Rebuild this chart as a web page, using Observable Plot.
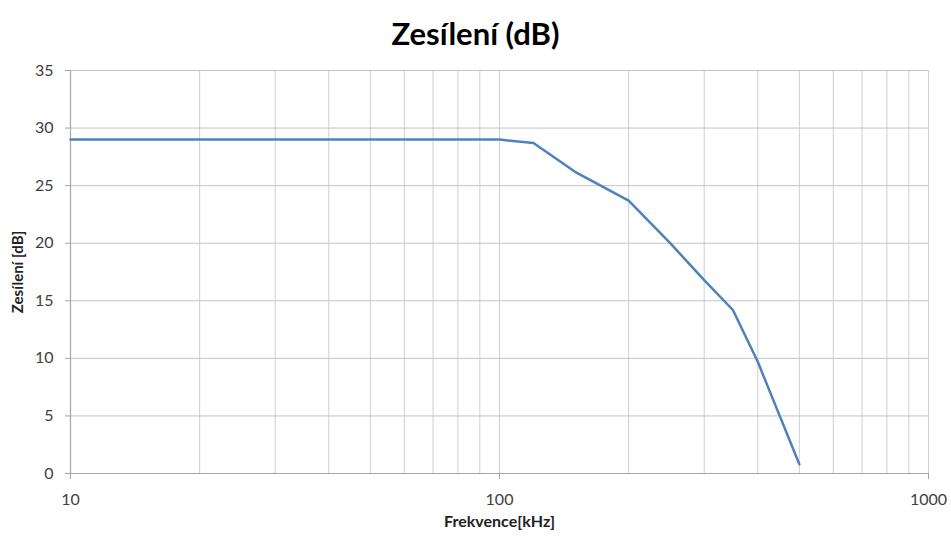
<!DOCTYPE html>
<html>
<head>
<meta charset="utf-8">
<script src="https://cdn.jsdelivr.net/npm/d3@7"></script>
<script src="https://cdn.jsdelivr.net/npm/@observablehq/plot@0.6"></script>
<style>
  html, body { margin: 0; padding: 0; background: #fff; }
  #title { height: 60px; line-height: 66px; text-align: center; font-family: Lato, "Open Sans", sans-serif; font-weight: bold; font-size: 31px; color: #000; }
</style>
</head>
<body>
<div id="title">Zesílení (dB)</div>
<div id="chart"></div>
<script>
const freqs = [10, 20, 30, 40, 50, 60, 70, 80, 90, 100, 120, 150, 200, 250, 300, 350, 400, 500];
const gains = [29, 29, 29, 29, 29, 29, 29, 29, 29, 29, 28.7, 26.2, 23.7, 20, 16.8, 14.2, 9.7, 0.8];
const xTickLabels = [10, 100, 1000];
const xGridValues = [20, 30, 40, 50, 60, 70, 80, 90, 100, 200, 300, 400, 500, 600, 700, 800, 900, 1000];
const yTickValues = [0, 5, 10, 15, 20, 25, 30, 35];
const xTitle = "Frekvence[kHz]";
const yTitle = "Zesílení [dB]";

const data = freqs.map((f, i) => ({f, g: gains[i]}));
const font = "Lato, 'Open Sans', sans-serif";

const chart = Plot.plot({
  width: 951,
  height: 477,
  marginLeft: 70,
  marginRight: 23,
  marginTop: 10,
  marginBottom: 64,
  style: {fontFamily: font, fontSize: "16px", color: "#404040", background: "#fff"},
  x: {type: "log", domain: [10, 1000]},
  y: {domain: [0, 35]},
  marks: [
    Plot.ruleX(xGridValues, {stroke: "#cfcfcf", strokeWidth: 1}),
    Plot.ruleY(yTickValues.filter(d => d > 0), {stroke: "#c4c4c4", strokeWidth: 1}),
    Plot.ruleX([10], {stroke: "#a6a6a6", strokeWidth: 1.2}),
    Plot.ruleY([0], {stroke: "#a6a6a6", strokeWidth: 1.2}),
    Plot.axisX(xTickLabels, {tickSize: 6, tickPadding: 14, tickFormat: d => String(d), label: null, stroke: "#a6a6a6", fill: "#404040"}),
    Plot.axisY(yTickValues, {tickSize: 5, tickPadding: 12, label: null, stroke: "#a6a6a6", fill: "#404040"}),
    Plot.line(data, {x: "f", y: "g", stroke: "#4f81bd", strokeWidth: 2.5}),
    Plot.text([xTitle], {frameAnchor: "bottom", dy: 53, fontWeight: "bold", fontSize: 16, fill: "#222"}),
    Plot.text([yTitle], {frameAnchor: "left", textAnchor: "middle", dx: -52, rotate: -90, fontWeight: "bold", fontSize: 15, fill: "#222"})
  ]
});
document.getElementById("chart").appendChild(chart);
</script>
</body>
</html>
